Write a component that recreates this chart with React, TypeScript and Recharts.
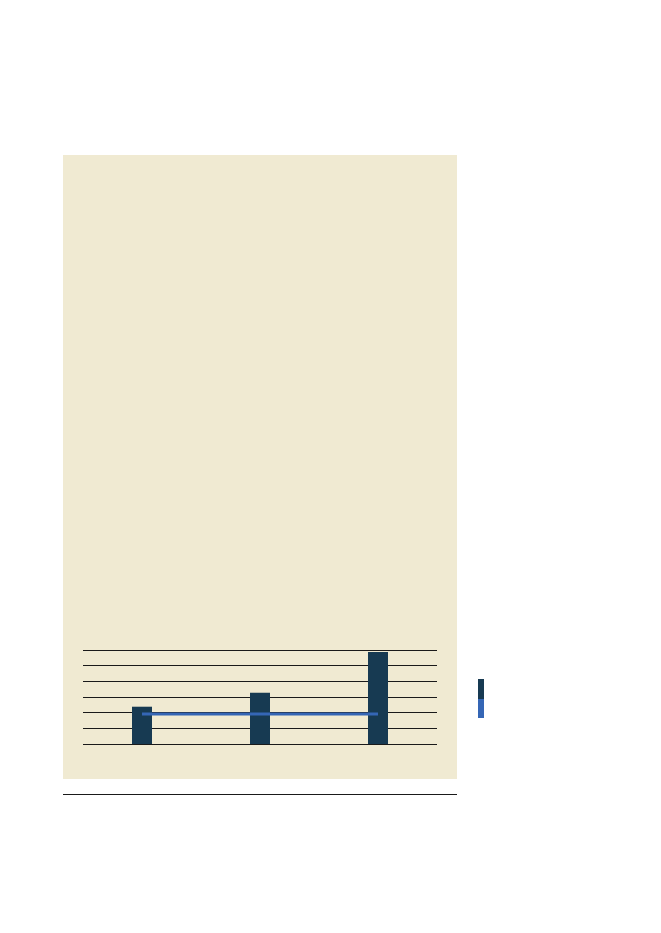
import { ComposedChart, Bar, Line, XAxis, YAxis, CartesianGrid, Legend } from 'recharts';

const categories = ['A', 'B', 'C'];
const barValues = [2.38, 3.27, 5.87];
const lineValues = [1.91, 1.91, 1.91];
const yTicks = [0, 1, 2, 3, 4, 5, 6];

const data = categories.map((name, i) => ({ name, bar: barValues[i], line: lineValues[i] }));

const BAR_COLOR = '#173a52';
const LINE_COLOR = '#3566b5';

function Swatches({ payload }: any) {
  return (
    <div style={{ display: 'flex', flexDirection: 'column' }}>
      {(payload || []).map((p: any) => (
        <span key={p.value} style={{ display: 'block', width: 6, height: 19.5, background: p.color }} />
      ))}
    </div>
  );
}

export default function App() {
  return (
    <div style={{ position: 'relative', width: 645, height: 900 }}>
      <div
        style={{ position: 'absolute', left: 55, top: 147, width: 394, height: 624, background: '#f0ead2' }}
      />
      <div
        style={{ position: 'absolute', left: 55, top: 786, width: 394, height: 1, background: '#1a1a1a' }}
      />
      <div style={{ position: 'absolute', left: 55, top: 147 }}>
        <ComposedChart
          width={480}
          height={624}
          data={data}
          margin={{ top: 495, right: 100, bottom: 35, left: 20 }}
        >
          <CartesianGrid
            vertical={false}
            stroke="#1a1a1a"
            strokeWidth={1}
            shapeRendering="crispEdges"
          />
          <XAxis dataKey="name" hide />
          <YAxis hide domain={[0, 6]} ticks={yTicks} interval={0} />
          <Legend
            layout="vertical"
            align="right"
            verticalAlign="middle"
            content={<Swatches />}
            wrapperStyle={{ left: 415, top: 524, width: 6 }}
          />
          <Bar dataKey="bar" fill={BAR_COLOR} barSize={20} isAnimationActive={false} />
          <Line
            type="linear"
            dataKey="line"
            stroke={LINE_COLOR}
            strokeWidth={3}
            dot={false}
            isAnimationActive={false}
          />
        </ComposedChart>
      </div>
    </div>
  );
}
